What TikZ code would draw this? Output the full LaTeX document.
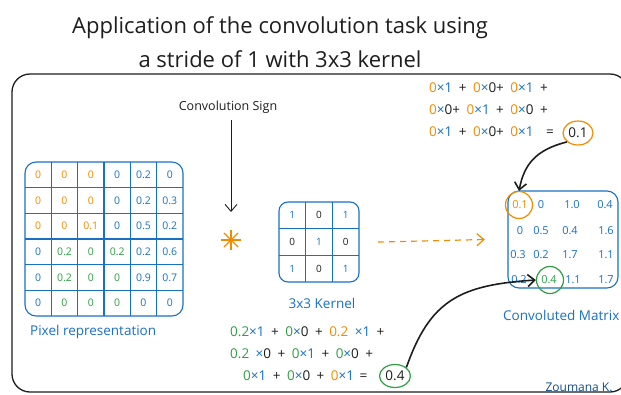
\documentclass[tikz,border=0pt]{standalone}
\usepackage{fontspec}
\setmainfont{Open Sans}
\usetikzlibrary{arrows.meta,shapes.geometric}
\definecolor{cblue}{HTML}{1971C2}
\definecolor{corange}{HTML}{F08C00}
\definecolor{cgreen}{HTML}{2F9E44}
\definecolor{cblack}{HTML}{1E1E1E}
\newcommand\eqo[1]{\textcolor{corange}{#1}}
\newcommand\eqb[1]{\textcolor{cblue}{#1}}
\newcommand\eqg[1]{\textcolor{cgreen}{#1}}
\tikzset{
  gridline/.style={draw=cblue, line width=1.1pt},
  cellval/.style={font=\fontsize{10.5}{11}\selectfont, inner sep=0pt},
  kval/.style={font=\fontsize{10}{11}\selectfont, inner sep=0pt},
  mval/.style={font=\fontsize{11}{12}\selectfont, inner sep=0pt},
  lbl/.style={text=cblue, font=\fontsize{13.5}{14}\selectfont, inner sep=0pt},
  eqline/.style={font=\fontsize{13.5}{14}\selectfont, inner sep=0pt, anchor=west, text=cblack,
    execute at begin node={\spaceskip=6.5pt\relax}},
  barb/.style={-{Straight Barb[length=7pt,width=12pt]}},
  curvearr/.style={barb, draw=cblack, line width=1.6pt},
  ring/.style={ellipse, draw, line width=1.2pt, inner sep=0pt, font=\fontsize{13.5}{14}\selectfont, text=cblack},
}
\begin{document}
\begin{tikzpicture}[x=1pt,y=-1pt]
\useasboundingbox (0,0) rectangle (621,394);
\fill[white] (0,0) rectangle (621,394);

% title
\node[font=\fontsize{22}{34}\selectfont, text=cblack, align=center] (title) at (280,42)
  {Application of the convolution task using\\a stride of 1 with 3x3 kernel};

% frame
\draw[cblack, line width=1.3pt, rounded corners=18] (12,74) rectangle (628,392);

% pixel grid
\draw[gridline, rounded corners=11] (25,162) rectangle (183,316);
\foreach \i in {1,...,5} {
  \draw[gridline] (25+\i*26.33,162) -- (25+\i*26.33,316);
  \draw[gridline] (25,162+\i*25.67) -- (183,162+\i*25.67);
}
\foreach \r/\row in {
  1/{corange/0,corange/0,corange/0,cblue/0,cblue/0.2,cblue/0},
  2/{corange/0,corange/0,corange/0,cblue/0,cblue/0.2,cblue/0.3},
  3/{corange/0,corange/0,corange/0.1,cblue/0,cblue/0.5,cblue/0.2},
  4/{cblue/0,cgreen/0.2,cgreen/0,cgreen/0.2,cblue/0.2,cblue/0.6},
  5/{cblue/0,cgreen/0.2,cgreen/0,cgreen/0,cblue/0.9,cblue/0.7},
  6/{cblue/0,cgreen/0,cgreen/0,cgreen/0,cblue/0,cblue/0}} {
  \foreach \col/\v [count=\c] in \row {
    \node[cellval, text=\col] (p-\r-\c) at (25+\c*26.33-13.17, 162+\r*25.67-12.83) {\v};
  }
}
\node[lbl, anchor=west] (pixlbl) at (30,332) {Pixel representation};

% convolution sign
\node[font=\fontsize{12.5}{14}\selectfont, text=cblack] (csign) at (228,107) {Convolution Sign};
\coordinate (star) at (231,240);
\foreach \a in {0,45,90,135} {
  \draw[corange, line width=1.2pt] (star) ++(\a:10) -- ++(\a+180:20);
}
\coordinate (csigntop) at (231,120);
\draw[barb, cblack, line width=0.9pt] (csigntop) -- (231,212);

% kernel
\draw[gridline, rounded corners=9] (279,202) rectangle (359,282);
\foreach \i in {1,2} {
  \draw[gridline] (279+\i*26.67,202) -- (279+\i*26.67,282);
  \draw[gridline] (279,202+\i*26.67) -- (359,202+\i*26.67);
}
\node[inner sep=0pt, minimum size=80pt] (kern) at (319,242) {};
\foreach \r/\row in {1/{cblue/1,cblack/0,cblue/1},2/{cblack/0,cblue/1,cblack/0},3/{cblue/1,cblack/0,cblue/1}} {
  \foreach \col/\v [count=\c] in \row {
    \node[kval, text=\col] (k-\r-\c) at (279+\c*26.67-13.33, 202+\r*26.67-13.33) {\v};
  }
}
\node[lbl] (kernlbl) at (322,303) {3x3 Kernel};

% convoluted matrix
\draw[gridline, rounded corners=11] (508,191) rectangle (618,288);
\node[inner sep=0pt, minimum width=110pt, minimum height=97pt] (cm) at (563,239.5) {};
\node[mval, text=corange] (m-1-1) at (520,205) {0.1};
\node[mval, text=cblue] (m-1-2) at (541,205) {0};
\node[mval, text=cblue] (m-1-3) at (572,205) {1.0};
\node[mval, text=cblue] (m-1-4) at (605,205) {0.4};
\node[mval, text=cblue] (m-2-1) at (520,231) {0};
\node[mval, text=cblue] (m-2-2) at (541,231) {0.5};
\node[mval, text=cblue] (m-2-3) at (570,231) {0.4};
\node[mval, text=cblue] (m-2-4) at (606,231) {1.6};
\node[mval, text=cblue] (m-3-1) at (518,255) {0.3};
\node[mval, text=cblue] (m-3-2) at (541,255) {0.2};
\node[mval, text=cblue] (m-3-3) at (570,255) {1.7};
\node[mval, text=cblue] (m-3-4) at (606,255) {1.1};
\node[mval, text=cblue] (m-4-1) at (519,280) {0.2};
\node[mval, text=cgreen] (m-4-2) at (549,280) {0.4};
\node[mval, text=cblue] (m-4-3) at (573,280) {1.1};
\node[mval, text=cblue] (m-4-4) at (606,280) {1.7};
\node[circle, draw=corange, line width=1.2pt, minimum size=27pt] (c11) at (519,205) {};
\node[circle, draw=cgreen, line width=1.2pt, minimum size=27pt] (c42) at (550,280) {};
\node[lbl, anchor=west] (cmlbl) at (503,315) {Convoluted Matrix};

% dashed arrow
\draw[barb, corange, dashed, dash pattern=on 6pt off 5pt, line width=1.2pt] ([xshift=19pt]kern.east) -- ([xshift=-23pt]cm.west);

% top equation
\node[eqline] (e1a) at (429,88) {\eqo{0}\eqb{×1} + \eqo{0}\eqb{×}0+ \eqo{0}\eqb{×1} +};
\node[eqline] (e1b) at (429,110) {\eqo{0}\eqb{×}0+ \eqo{0}\eqb{×1} + \eqo{0}\eqb{×}0 +};
\node[eqline] (e1c) at (429,132) {\eqo{0}\eqb{×1} + \eqo{0}\eqb{×}0+ \eqo{0}\eqb{×1}\hspace{6pt} =};
\node[ring, draw=corange, minimum width=30pt, minimum height=24pt] (res1) at (578,133) {0.1};

% bottom equation
\node[eqline] (e2a) at (230,332) {\eqg{0.2}\eqb{×1} + \eqg{0}\eqb{×}0 + \eqo{0.2} \eqb{×1} +};
\node[eqline] (e2b) at (230,354) {\eqg{0.2} \eqb{×}0 + \eqg{0}\eqb{×1} + \eqg{0}\eqb{×}0 +};
\node[eqline] (e2c) at (243,376) {\eqg{0}\eqb{×1} + \eqg{0}\eqb{×}0 + \eqo{0}\eqb{×1}\hspace{-1pt} =};
\node[ring, draw=cgreen, minimum width=31pt, minimum height=23pt] (res2) at (395,376) {0.4};

% curved arrows
\draw[curvearr] (res1.south west) .. controls (535,150) and (524,165) .. (c11.north);
\draw[curvearr] (res2.north east) .. controls (430,300) and (460,285) .. (c42.west);

% author
\node[text=cblue!70!black, font=\fontsize{12}{13}\selectfont, anchor=west] (author) at (542,387) {Zoumana K.};
\end{tikzpicture}
\end{document}
